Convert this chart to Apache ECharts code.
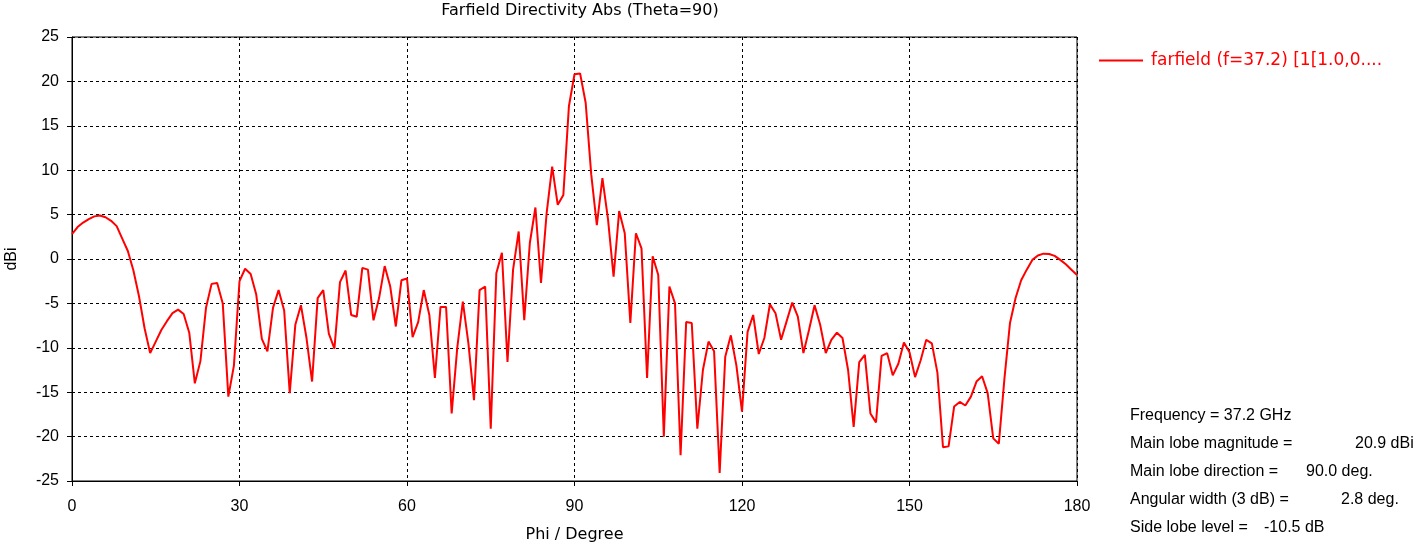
<!DOCTYPE html>
<html><head><meta charset="utf-8">
<script src="https://cdn.jsdelivr.net/npm/echarts@6/dist/echarts.min.js"></script>
<style>html,body{margin:0;padding:0;background:#fff}#c{width:1416px;height:545px}</style>
</head><body><div id="c"></div>
<script>
const phi = [];
for (let i = 0; i <= 180; i++) phi.push(i);
const directivity = [
 2.8, 3.6, 4.1, 4.5, 4.8, 4.9, 4.7, 4.3, 3.7, 2.3,
 0.9, -1.3, -4.2, -7.8, -10.6, -9.3, -8.0, -7.0, -6.1, -5.7,
 -6.2, -8.3, -14.0, -11.5, -5.5, -2.8, -2.7, -5.0, -15.5, -12.0,
 -2.5, -1.1, -1.7, -4.0, -9.0, -10.4, -5.5, -3.5, -5.8, -15.1,
 -7.4, -5.2, -8.9, -13.8, -4.4, -3.5, -8.4, -10.1, -2.6, -1.3,
 -6.3, -6.5, -1.0, -1.2, -6.9, -4.4, -0.8, -3.1, -7.6, -2.4,
 -2.2, -8.8, -7.1, -3.5, -6.3, -13.4, -5.4, -5.4, -17.4, -10.0,
 -4.8, -9.5, -15.9, -3.5, -3.1, -19.1, -1.6, 0.7, -11.6, -1.2,
 3.1, -6.9, 1.8, 5.8, -2.7, 5.1, 10.4, 6.1, 7.2, 17.2,
 20.8, 20.9, 17.6, 9.5, 3.8, 9.1, 4.5, -2.0, 5.4, 2.9,
 -7.2, 2.9, 1.2, -13.4, 0.3, -1.8, -20.0, -3.1, -5.0, -22.1,
 -7.1, -7.2, -19.1, -12.5, -9.3, -10.4, -24.1, -11.0, -8.6, -12.0,
 -17.2, -8.2, -6.3, -10.7, -8.9, -5.1, -6.1, -9.1, -7.0, -4.9,
 -6.5, -10.6, -8.0, -5.2, -7.4, -10.6, -9.1, -8.3, -8.9, -12.5,
 -18.9, -11.6, -10.8, -17.4, -18.4, -10.9, -10.6, -13.1, -11.8, -9.4,
 -10.5, -13.3, -11.4, -9.1, -9.5, -12.8, -21.2, -21.1, -16.6, -16.1,
 -16.5, -15.5, -13.8, -13.2, -15.1, -20.2, -20.8, -13.5, -7.2, -4.4,
 -2.4, -1.2, -0.1, 0.4, 0.6, 0.56, 0.35, -0.1, -0.6, -1.2,
 -1.8
];
const seriesName = 'farfield (f=37.2) [1[1.0,0....';
const infoLabels = ['Frequency = 37.2 GHz', 'Main lobe magnitude =', 'Main lobe direction =', 'Angular width (3 dB) =', 'Side lobe level ='];
const infoValues = ['', '20.9 dBi', '90.0 deg.', '2.8 deg.', '-10.5 dB'];
const titleText = 'Farfield Directivity Abs (Theta=90)';
const xName = 'Phi / Degree';
const yName = 'dBi';

const NUMFONT = 'Liberation Sans';
const TXTFONT = 'DejaVu Sans';
const FS = 16;
const valueLeft = [0, 1355, 1306, 1341, 1264];
const chart = echarts.init(document.getElementById('c'), null, {renderer: 'canvas'});
const dashed = {show: true, lineStyle: {color: '#000', type: [3, 3], width: 1}};
const graphics = [];
infoLabels.forEach((t, i) => {
  graphics.push({type: 'text', left: 1130, top: 408 + i * 28, style: {text: t, fontFamily: NUMFONT, fontSize: FS, fill: '#000'}});
  if (infoValues[i]) graphics.push({type: 'text', left: valueLeft[i], top: 408 + i * 28, style: {text: infoValues[i], fontFamily: NUMFONT, fontSize: FS, fill: '#000'}});
});
chart.setOption({
  animation: false,
  backgroundColor: '#fff',
  title: {text: titleText, left: 575, top: -2, textAlign: 'center',
    textStyle: {fontFamily: TXTFONT, fontSize: FS, fontWeight: 'normal', color: '#000'}},
  legend: {show: true, left: 1094, top: 47, itemWidth: 44, itemHeight: 2, itemGap: 5,
    data: [{name: seriesName, icon: 'rect', itemStyle: {color: '#ff0000'}}],
    textStyle: {fontFamily: TXTFONT, fontSize: 17, color: '#ff0000', padding: [0, 0, 0, 3]}},
  grid: {left: 72, right: 339, top: 37, bottom: 64, show: true, borderColor: '#000', borderWidth: 1,
    containLabel: false, outerBoundsMode: 'none'},
  xAxis: {type: 'value', min: 0, max: 180, interval: 30, name: xName, nameLocation: 'middle', nameGap: 46,
    nameTextStyle: {fontFamily: TXTFONT, fontSize: FS, color: '#000'},
    axisLine: {show: true, onZero: false, lineStyle: {color: '#000', width: 1}},
    axisTick: {show: true, length: 5, lineStyle: {color: '#000'}},
    axisLabel: {fontFamily: NUMFONT, fontSize: FS, color: '#000', margin: 18},
    splitLine: dashed},
  yAxis: {type: 'value', min: -25, max: 25, interval: 5, name: yName, nameLocation: 'middle', nameGap: 52, nameRotate: 90,
    nameTextStyle: {fontFamily: NUMFONT, fontSize: FS, color: '#000'},
    axisLine: {show: true, onZero: false, lineStyle: {color: '#000', width: 1}},
    axisTick: {show: true, length: 5, lineStyle: {color: '#000'}},
    axisLabel: {fontFamily: NUMFONT, fontSize: FS, color: '#000', margin: 13},
    splitLine: dashed},
  series: [{name: seriesName, type: 'line', showSymbol: false, symbol: 'none',
    data: phi.map((p, i) => [p, directivity[i]]),
    lineStyle: {color: '#ff0000', width: 2}, itemStyle: {color: '#ff0000'}}],
  graphic: graphics
});
</script></body></html>
